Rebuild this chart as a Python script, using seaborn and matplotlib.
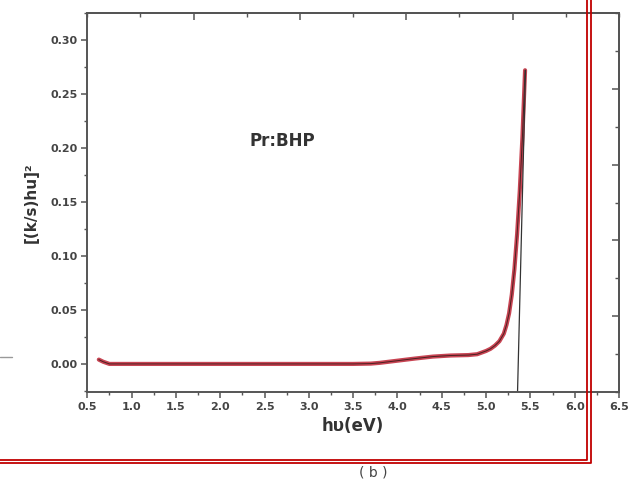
import matplotlib
matplotlib.use('Agg')
import matplotlib.pyplot as plt
import numpy as np
import pandas as pd
import seaborn as sns
from matplotlib.lines import Line2D
from matplotlib.ticker import MultipleLocator, NullFormatter

sns.set_style('ticks')
plt.rcParams['font.family'] = ['DejaVu Sans']

# curve
energy = [0.63, 0.68, 0.75, 1.0, 1.5, 2.0, 2.5, 3.0, 3.5, 3.7, 3.8, 3.9, 4.0,
          4.2, 4.4, 4.6, 4.8, 4.9, 5.0, 5.05, 5.1, 5.15, 5.2, 5.23, 5.26,
          5.29, 5.32, 5.35, 5.38, 5.41, 5.44]
absorb = [0.004, 0.002, 0.0, 0.0, 0.0, 0.0, 0.0, 0.0, 0.0, 0.0003, 0.001,
          0.002, 0.003, 0.005, 0.0068, 0.0078, 0.0082, 0.009, 0.012, 0.014,
          0.017, 0.021, 0.028, 0.036, 0.047, 0.064, 0.088, 0.12, 0.16,
          0.21, 0.272]
# tangent extrapolated to the x axis
tangent_x = [5.355, 5.445]
tangent_y = [-0.026, 0.272]

xlim = (0.5, 6.5)
ylim = (-0.026, 0.325)
xticks = np.arange(0.5, 6.51, 0.5)
yticks = np.arange(0.0, 0.301, 0.05)

df = pd.DataFrame({'E': energy, 'A': absorb})

fig = plt.figure(figsize=(6.33, 4.84), dpi=100)
ax = fig.add_axes([87.3 / 633, 1 - 392 / 484, (619 - 87.3) / 633, (392 - 13) / 484])

grey = '#555555'
sns.lineplot(data=df, x='E', y='A', ax=ax, color='#c23040', lw=3.0, alpha=0.9)
sns.lineplot(data=df, x='E', y='A', ax=ax, color='#4a2020', lw=0.7)
ax.plot(tangent_x, tangent_y, color='#333333', lw=0.9)

ax.set_xlim(*xlim)
ax.set_ylim(*ylim)
ax.set_xticks(xticks)
ax.set_yticks(yticks)
ax.set_xticklabels([f'{v:.1f}' for v in xticks])
ax.set_yticklabels([f'{v:.2f}' for v in yticks])
ax.xaxis.set_minor_locator(MultipleLocator(0.25))
ax.yaxis.set_minor_locator(MultipleLocator(0.025))
ax.tick_params(which='major', length=4, width=1.1, color=grey,
               labelsize=8, labelcolor='#444444', pad=3)
ax.tick_params(which='minor', length=2.5, width=1.0, color=grey)
for lab in ax.get_xticklabels() + ax.get_yticklabels():
    lab.set_fontweight('bold')

for s in ax.spines.values():
    s.set_visible(True)
    s.set_color(grey)
    s.set_linewidth(1.4)

# mirrored top / right axes with their own 10 divisions
top = ax.secondary_xaxis('top', functions=(lambda x: (x - 0.5) / 6 * 10,
                                           lambda t: t / 10 * 6 + 0.5))
top.set_xticks(np.arange(2, 10, 2))
top.xaxis.set_minor_locator(MultipleLocator(1))
top.xaxis.set_major_formatter(NullFormatter())
top.tick_params(which='major', direction='in', length=5, width=1.1, color=grey)
top.tick_params(which='minor', direction='in', length=3, width=1.0, color=grey)
top.spines['top'].set_color(grey)
top.spines['top'].set_linewidth(1.4)

span = ylim[1] - ylim[0]
right = ax.secondary_yaxis('right', functions=(lambda y: (y - ylim[0]) / span * 10,
                                               lambda t: t / 10 * span + ylim[0]))
right.set_yticks(np.arange(2, 10, 2))
right.yaxis.set_minor_locator(MultipleLocator(1))
right.yaxis.set_major_formatter(NullFormatter())
right.tick_params(which='major', direction='in', length=5, width=1.1, color=grey)
right.tick_params(which='minor', direction='in', length=3, width=1.0, color=grey)
right.spines['right'].set_visible(True)
right.spines['right'].set_color(grey)
right.spines['right'].set_linewidth(1.4)

ax.set_xlabel('hυ(eV)', fontsize=12, fontweight='bold', color='#333333', labelpad=4)
ax.set_ylabel('[(k/s)hu]²', fontsize=11, fontweight='bold', color='#333333', labelpad=8)
ax.text(2.70, 0.206, 'Pr:BHP', fontsize=12, fontweight='bold', color='#333333',
        ha='center', va='center')

# page decorations around the figure
W, H = 633, 484
for xr, yr in [(586.7, 460.0), (590.7, 462.7)]:
    fig.add_artist(Line2D([0, xr / W, xr / W], [1 - yr / H, 1 - yr / H, 1],
                          transform=fig.transFigure, color='#c00000', lw=1.3))
fig.add_artist(Line2D([0, 12 / W], [1 - 357 / H, 1 - 357 / H],
                      transform=fig.transFigure, color='#999999', lw=1.0))
fig.text(373 / W, 1 - 472 / H, '( b )', fontsize=10, color='#444444',
         ha='center', va='center')

fig.savefig('out.png', dpi=100)
